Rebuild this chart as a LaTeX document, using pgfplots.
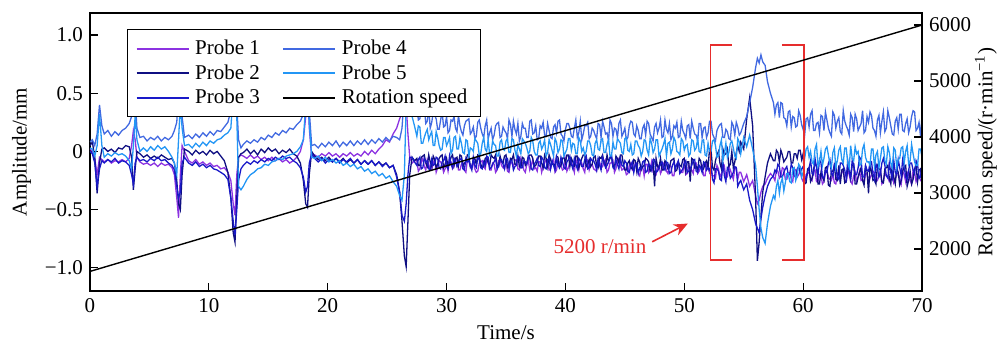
\documentclass[border=0pt]{standalone}
\usepackage{pgfplots}
\pgfplotsset{compat=1.18}
\usepackage{pgfplotstable}
\usepackage{fontspec}
\setmainfont{Liberation Serif}
\usetikzlibrary{arrows.meta}
\definecolor{pone}{RGB}{140,50,225}
\definecolor{ptwo}{RGB}{15,15,130}
\definecolor{pthree}{RGB}{25,25,200}
\definecolor{pfour}{RGB}{65,105,225}
\definecolor{pfive}{RGB}{35,150,245}
\definecolor{myred}{RGB}{230,45,45}

\pgfplotstableread{
t p1 p2 p3 p4 p5
0.0 0.02 0.05 0.00 0.08 0.03
0.2 0.00 0.08 -0.02 0.10 0.02
0.4 -0.06 -0.05 -0.10 0.05 -0.04
0.6 -0.20 -0.36 -0.30 0.15 0.05
0.8 -0.05 -0.10 -0.15 0.40 0.32
1.0 -0.07 0.02 -0.08 0.22 0.05
1.2 -0.09 0.03 -0.10 0.15 -0.05
1.5 -0.07 0.00 -0.07 0.18 -0.02
1.8 -0.10 0.02 -0.09 0.13 -0.04
2.1 -0.08 -0.01 -0.06 0.17 -0.01
2.4 -0.09 0.03 -0.10 0.14 -0.03
2.7 -0.07 0.02 -0.08 0.18 -0.02
3.0 -0.09 0.05 -0.09 0.20 -0.04
3.3 -0.06 0.04 -0.12 0.24 -0.08
3.5 0.05 -0.05 -0.20 0.30 -0.15
3.65 0.18 -0.33 -0.28 0.35 0.05
3.8 0.10 -0.15 -0.10 0.45 0.31
3.95 -0.05 0.00 -0.05 0.20 0.10
4.2 -0.09 -0.02 -0.08 0.12 0.00
4.5 -0.11 -0.05 -0.07 0.13 0.03
4.8 -0.10 -0.03 -0.09 0.09 0.00
5.1 -0.12 -0.06 -0.06 0.12 0.04
5.4 -0.10 -0.04 -0.08 0.10 0.01
5.7 -0.13 -0.06 -0.05 0.13 0.05
6.0 -0.10 -0.03 -0.08 0.09 0.02
6.3 -0.12 -0.05 -0.07 0.12 0.04
6.6 -0.11 -0.07 -0.10 0.10 0.00
6.9 -0.14 -0.06 -0.12 0.13 -0.05
7.1 -0.20 -0.10 -0.16 0.18 -0.10
7.3 -0.40 -0.25 -0.30 0.25 -0.20
7.45 -0.57 -0.45 -0.40 0.50 0.10
7.6 -0.20 -0.50 -0.35 0.60 0.40
7.75 0.05 -0.20 -0.10 0.30 0.20
7.95 0.00 0.02 -0.05 0.12 0.05
8.3 -0.08 0.00 -0.10 0.14 0.06
8.6 -0.10 -0.03 -0.12 0.11 0.03
8.9 -0.07 0.01 -0.09 0.15 0.07
9.2 -0.11 -0.02 -0.13 0.12 0.04
9.5 -0.09 0.00 -0.11 0.16 0.08
9.8 -0.12 -0.03 -0.14 0.13 0.05
10.1 -0.10 0.01 -0.12 0.17 0.09
10.4 -0.13 -0.02 -0.15 0.14 0.07
10.7 -0.12 0.00 -0.16 0.18 0.10
11.0 -0.15 -0.04 -0.18 0.17 0.11
11.3 -0.14 -0.08 -0.20 0.21 0.14
11.6 -0.18 -0.18 -0.24 0.25 0.16
11.85 -0.25 -0.40 -0.40 0.35 0.20
12.05 -0.45 -0.70 -0.60 0.55 0.50
12.2 -0.55 -0.78 -0.72 0.70 0.60
12.35 -0.20 -0.40 -0.50 0.40 0.30
12.5 -0.05 -0.05 -0.25 0.10 -0.30
12.7 -0.03 -0.02 -0.15 0.03 -0.33
12.9 -0.04 -0.01 -0.12 0.06 -0.30
13.2 -0.06 0.02 -0.09 0.09 -0.24
13.5 -0.03 -0.02 -0.11 0.07 -0.20
13.8 -0.06 0.01 -0.08 0.10 -0.18
14.1 -0.04 -0.03 -0.10 0.08 -0.15
14.4 -0.07 0.02 -0.07 0.12 -0.14
14.7 -0.05 -0.01 -0.09 0.10 -0.11
15.0 -0.08 0.03 -0.06 0.14 -0.12
15.3 -0.05 0.00 -0.08 0.12 -0.09
15.6 -0.08 0.02 -0.05 0.16 -0.08
15.9 -0.06 -0.02 -0.07 0.14 -0.06
16.2 -0.09 0.01 -0.04 0.18 -0.07
16.5 -0.07 -0.01 -0.06 0.16 -0.04
16.8 -0.10 0.02 -0.05 0.20 -0.03
17.1 -0.08 -0.02 -0.08 0.19 -0.02
17.4 -0.05 -0.04 -0.10 0.23 0.00
17.7 0.00 -0.10 -0.14 0.26 0.04
17.95 0.10 -0.25 -0.22 0.32 0.10
18.15 0.30 -0.45 -0.35 0.50 0.40
18.3 0.55 -0.48 -0.30 0.65 0.55
18.45 0.20 -0.20 -0.10 0.35 0.25
18.65 -0.05 0.00 -0.02 0.05 -0.05
18.9 -0.03 -0.04 -0.06 0.06 -0.06
19.2 -0.05 -0.07 -0.09 0.03 -0.04
19.5 -0.02 -0.05 -0.06 0.07 -0.08
19.8 -0.04 -0.08 -0.10 0.04 -0.05
20.1 -0.01 -0.05 -0.07 0.08 -0.09
20.4 -0.04 -0.09 -0.09 0.05 -0.07
20.7 -0.02 -0.06 -0.06 0.09 -0.10
21.0 -0.05 -0.09 -0.10 0.04 -0.08
21.3 -0.02 -0.06 -0.07 0.08 -0.12
21.6 -0.04 -0.10 -0.09 0.05 -0.10
21.9 -0.01 -0.07 -0.06 0.09 -0.13
22.2 -0.04 -0.10 -0.10 0.05 -0.11
22.5 -0.02 -0.07 -0.07 0.09 -0.15
22.8 -0.04 -0.11 -0.11 0.06 -0.13
23.1 0.00 -0.08 -0.08 0.10 -0.17
23.4 -0.03 -0.11 -0.11 0.06 -0.15
23.7 0.01 -0.08 -0.08 0.10 -0.19
24.0 -0.02 -0.12 -0.12 0.07 -0.17
24.3 0.02 -0.09 -0.09 0.11 -0.21
24.6 0.05 -0.12 -0.13 0.08 -0.19
24.9 0.10 -0.10 -0.10 0.12 -0.23
25.2 0.08 -0.14 -0.14 0.09 -0.21
25.5 0.15 -0.12 -0.12 0.13 -0.26
25.8 0.20 -0.20 -0.22 0.12 -0.30
26.05 0.28 -0.35 -0.35 0.10 -0.38
26.25 0.33 -0.60 -0.55 0.20 -0.42
26.45 0.50 -0.90 -0.60 0.50 -0.20
26.6 0.40 -0.99 -0.45 0.70 0.40
26.75 0.15 -0.60 -0.20 0.75 0.60
26.9 -0.05 -0.20 -0.05 0.55 0.45
27.1 -0.10 -0.05 -0.05 0.38 0.30
27.3 -0.08 -0.08 -0.09 0.33 0.22
27.5 -0.08 -0.06 -0.12 0.40 0.13
27.625 -0.17 -0.12 -0.07 0.27 0.22
27.75 -0.15 -0.12 -0.05 0.28 0.21
27.875 -0.09 -0.05 -0.15 0.37 0.07
28.0 -0.06 -0.04 -0.14 0.33 0.07
28.125 -0.13 -0.03 -0.06 0.38 0.12
28.25 -0.16 -0.10 -0.09 0.24 0.16
28.375 -0.07 -0.13 -0.08 0.26 0.19
28.5 -0.11 -0.03 -0.15 0.37 0.10
28.625 -0.16 -0.09 -0.16 0.20 0.14
28.75 -0.16 -0.13 -0.07 0.25 0.17
28.875 -0.10 -0.04 -0.12 0.33 0.05
29.0 -0.07 -0.07 -0.11 0.31 0.05
29.125 -0.18 -0.14 -0.05 0.28 0.17
29.25 -0.14 -0.11 -0.06 0.19 0.12
29.375 -0.08 -0.06 -0.14 0.19 0.05
29.5 -0.09 -0.04 -0.15 0.27 0.01
29.625 -0.12 -0.03 -0.09 0.34 0.02
29.75 -0.18 -0.14 -0.08 0.21 0.12
29.875 -0.15 -0.11 -0.04 0.22 0.12
30.0 -0.10 -0.06 -0.13 0.30 0.05
30.125 -0.17 -0.13 -0.15 0.16 0.08
30.25 -0.08 -0.10 -0.04 0.18 0.12
30.375 -0.09 -0.05 -0.11 0.27 -0.02
30.5 -0.15 -0.03 -0.14 0.26 0.01
30.625 -0.13 -0.12 -0.06 0.30 0.12
30.75 -0.06 -0.06 -0.08 0.20 0.13
30.875 -0.07 -0.05 -0.13 0.17 0.02
31.0 -0.16 -0.12 -0.11 0.31 0.02
31.125 -0.16 -0.03 -0.07 0.22 0.12
31.25 -0.11 -0.04 -0.06 0.17 0.07
31.375 -0.10 -0.13 -0.15 0.14 -0.01
31.5 -0.16 -0.10 -0.16 0.22 -0.02
31.625 -0.18 -0.09 -0.06 0.26 0.10
31.75 -0.07 -0.03 -0.09 0.27 0.09
31.875 -0.08 -0.04 -0.08 0.28 -0.04
32.0 -0.14 -0.13 -0.12 0.15 0.03
32.125 -0.12 -0.14 -0.16 0.17 0.02
32.25 -0.09 -0.07 -0.05 0.21 0.00
32.375 -0.15 -0.06 -0.12 0.11 0.11
32.5 -0.18 -0.11 -0.14 0.13 0.09
32.625 -0.17 -0.03 -0.05 0.25 0.07
32.75 -0.10 -0.04 -0.07 0.27 -0.03
32.875 -0.09 -0.11 -0.14 0.20 -0.02
33.0 -0.08 -0.14 -0.15 0.15 0.07
33.125 -0.13 -0.13 -0.09 0.12 0.12
33.25 -0.15 -0.06 -0.12 0.22 0.02
33.375 -0.07 -0.05 -0.04 0.27 0.00
33.5 -0.06 -0.10 -0.05 0.11 0.10
33.625 -0.16 -0.12 -0.15 0.16 -0.03
33.75 -0.16 -0.03 -0.14 0.20 -0.01
33.875 -0.10 -0.05 -0.11 0.10 0.09
34.0 -0.11 -0.06 -0.09 0.14 0.06
34.125 -0.18 -0.03 -0.06 0.22 0.05
34.25 -0.16 -0.12 -0.15 0.24 -0.04
34.375 -0.08 -0.13 -0.13 0.25 -0.04
34.5 -0.07 -0.04 -0.07 0.12 0.08
34.625 -0.12 -0.09 -0.07 0.13 0.10
34.75 -0.14 -0.10 -0.11 0.21 0.02
34.875 -0.15 -0.04 -0.15 0.18 0.01
35.0 -0.09 -0.03 -0.06 0.16 0.09
35.125 -0.17 -0.14 -0.06 0.11 0.11
35.25 -0.18 -0.13 -0.15 0.27 -0.01
35.375 -0.09 -0.06 -0.08 0.23 -0.01
35.5 -0.10 -0.07 -0.08 0.13 0.11
35.625 -0.13 -0.03 -0.16 0.26 0.10
35.75 -0.08 -0.11 -0.13 0.19 0.01
35.875 -0.07 -0.11 -0.12 0.15 -0.04
36.0 -0.15 -0.04 -0.04 0.24 0.06
36.125 -0.16 -0.13 -0.05 0.09 0.02
36.25 -0.06 -0.14 -0.14 0.13 -0.02
36.375 -0.10 -0.05 -0.14 0.24 0.11
36.5 -0.16 -0.06 -0.08 0.20 0.09
36.625 -0.18 -0.12 -0.09 0.20 0.07
36.75 -0.11 -0.10 -0.11 0.12 0.03
36.875 -0.08 -0.05 -0.04 0.12 -0.02
37.0 -0.16 -0.03 -0.06 0.26 0.00
37.125 -0.12 -0.03 -0.15 0.27 0.12
37.25 -0.07 -0.06 -0.16 0.15 0.09
37.375 -0.15 -0.13 -0.11 0.16 0.00
37.5 -0.14 -0.12 -0.09 0.22 -0.03
37.625 -0.17 -0.09 -0.06 0.10 -0.03
37.75 -0.09 -0.04 -0.12 0.11 0.07
37.875 -0.09 -0.04 -0.13 0.22 0.09
38.0 -0.18 -0.10 -0.05 0.20 0.02
38.125 -0.13 -0.14 -0.07 0.25 0.05
38.25 -0.10 -0.03 -0.14 0.14 0.10
38.375 -0.07 -0.06 -0.15 0.13 -0.04
38.5 -0.08 -0.13 -0.07 0.24 -0.01
38.625 -0.16 -0.03 -0.06 0.18 0.10
38.75 -0.15 -0.07 -0.15 0.12 0.06
38.875 -0.10 -0.11 -0.08 0.11 0.01
39.0 -0.06 -0.11 -0.12 0.21 -0.04
39.125 -0.18 -0.13 -0.16 0.23 0.11
39.25 -0.16 -0.04 -0.05 0.16 0.08
39.375 -0.08 -0.05 -0.12 0.26 -0.01
39.5 -0.11 -0.14 -0.14 0.27 0.02
39.625 -0.12 -0.12 -0.05 0.15 0.10
39.75 -0.16 -0.06 -0.09 0.13 0.09
39.875 -0.15 -0.05 -0.14 0.09 -0.04
40.0 -0.07 -0.10 -0.15 0.19 -0.01
40.125 -0.17 -0.03 -0.09 0.24 0.02
40.25 -0.14 -0.03 -0.07 0.24 0.11
40.375 -0.09 -0.13 -0.04 0.20 0.11
40.5 -0.09 -0.06 -0.11 0.13 0.01
40.625 -0.13 -0.09 -0.15 0.12 0.07
40.75 -0.18 -0.12 -0.06 0.20 0.06
40.875 -0.07 -0.04 -0.11 0.27 -0.02
41.0 -0.10 -0.04 -0.15 0.12 -0.02
41.125 -0.16 -0.14 -0.06 0.16 0.12
41.25 -0.08 -0.10 -0.08 0.26 0.09
41.375 -0.10 -0.06 -0.13 0.10 0.00
41.5 -0.15 -0.03 -0.13 0.15 0.03
41.625 -0.18 -0.03 -0.07 0.22 -0.03
41.75 -0.06 -0.13 -0.04 0.22 0.00
41.875 -0.08 -0.11 -0.15 0.25 0.09
42.0 -0.16 -0.07 -0.14 0.11 0.09
42.125 -0.12 -0.13 -0.06 0.13 0.05
42.25 -0.11 -0.11 -0.08 0.20 -0.03
42.375 -0.15 -0.05 -0.08 0.18 -0.04
42.5 -0.16 -0.04 -0.11 0.14 0.07
42.625 -0.17 -0.12 -0.16 0.11 0.10
42.75 -0.07 -0.14 -0.06 0.24 0.02
42.875 -0.09 -0.05 -0.12 0.23 0.01
43.0 -0.14 -0.06 -0.16 0.12 0.10
43.125 -0.13 -0.03 -0.05 0.26 0.11
43.25 -0.09 -0.10 -0.09 0.21 -0.01
43.375 -0.07 -0.13 -0.14 0.15 -0.01
43.5 -0.18 -0.03 -0.12 0.16 0.06
43.625 -0.16 -0.09 -0.09 0.09 0.10
43.75 -0.10 -0.06 -0.05 0.27 -0.04
43.875 -0.10 -0.04 -0.04 0.24 -0.04
44.0 -0.08 -0.12 -0.14 0.13 0.08
44.125 -0.18 -0.14 -0.15 0.20 0.02
44.25 -0.15 -0.04 -0.07 0.19 0.02
44.375 -0.08 -0.06 -0.11 0.12 0.11
44.5 -0.06 -0.10 -0.15 0.24 0.09
44.625 -0.12 -0.03 -0.06 0.27 0.07
44.75 -0.16 -0.03 -0.12 0.13 -0.01
44.875 -0.15 -0.11 -0.13 0.16 -0.02
45.0 -0.14 -0.16 -0.08 0.20 0.11
45.125 -0.20 -0.16 -0.10 0.10 0.12
45.25 -0.19 -0.10 -0.17 0.12 0.01
45.375 -0.12 -0.08 -0.18 0.22 0.00
45.5 -0.10 -0.14 -0.12 0.26 0.06
45.625 -0.16 -0.15 -0.09 0.25 -0.03
45.75 -0.17 -0.07 -0.18 0.15 -0.02
45.875 -0.10 -0.08 -0.11 0.13 0.09
46.0 -0.12 -0.17 -0.10 0.22 0.09
46.125 -0.19 -0.06 -0.19 0.18 0.05
46.25 -0.21 -0.09 -0.14 0.11 0.03
46.375 -0.13 -0.16 -0.15 0.11 -0.04
46.5 -0.13 -0.13 -0.09 0.20 0.00
46.625 -0.21 -0.12 -0.08 0.23 0.10
46.75 -0.11 -0.06 -0.18 0.14 0.09
46.875 -0.11 -0.07 -0.17 0.26 0.01
47.0 -0.18 -0.09 -0.11 0.24 -0.03
47.125 -0.15 -0.17 -0.12 0.15 0.11
47.25 -0.09 -0.15 -0.16 0.12 0.07
47.375 -0.18 -0.09 -0.07 0.09 -0.01
47.5 -0.19 -0.30 -0.07 0.21 0.02
47.625 -0.20 -0.06 -0.18 0.24 0.10
47.75 -0.14 -0.13 -0.17 0.16 0.10
47.875 -0.12 -0.14 -0.14 0.20 -0.04
48.0 -0.19 -0.06 -0.11 0.27 -0.01
48.125 -0.16 -0.16 -0.09 0.12 0.02
48.25 -0.10 -0.16 -0.14 0.13 0.06
48.375 -0.10 -0.08 -0.16 0.27 0.11
48.5 -0.17 -0.10 -0.09 0.19 -0.04
48.625 -0.19 -0.15 -0.10 0.16 0.07
48.75 -0.12 -0.14 -0.19 0.24 0.08
48.875 -0.13 -0.08 -0.18 0.10 -0.02
49.0 -0.21 -0.07 -0.12 0.13 0.02
49.125 -0.21 -0.06 -0.09 0.22 0.12
49.25 -0.13 -0.17 -0.15 0.20 0.09
49.375 -0.11 -0.16 -0.11 0.25 0.00
49.5 -0.11 -0.09 -0.08 0.12 -0.01
49.625 -0.15 -0.12 -0.19 0.13 -0.03
49.75 -0.18 -0.13 -0.17 0.26 0.11
49.875 -0.18 -0.07 -0.15 0.18 0.09
50.0 -0.09 -0.06 -0.10 0.15 0.01
50.125 -0.20 -0.17 -0.08 0.11 0.05
50.25 -0.19 -0.09 -0.18 0.22 0.06
50.375 -0.12 -0.09 -0.17 0.23 -0.04
50.5 -0.14 -0.26 -0.15 0.11 -0.02
50.625 -0.16 -0.06 -0.12 0.26 0.10
50.75 -0.19 -0.07 -0.08 0.20 0.09
50.875 -0.10 -0.14 -0.07 0.15 0.01
51.0 -0.10 -0.13 -0.17 0.14 0.03
51.125 -0.19 -0.16 -0.18 0.09 0.11
51.25 -0.17 -0.06 -0.12 0.24 0.00
51.375 -0.13 -0.08 -0.14 0.24 -0.01
51.5 -0.12 -0.16 -0.18 0.12 0.09
51.625 -0.21 -0.15 -0.09 0.20 0.10
51.75 -0.21 -0.10 -0.10 0.21 -0.03
51.875 -0.11 -0.08 -0.16 0.12 -0.04
52.0 -0.13 -0.14 -0.14 0.16 0.07
52.125 -0.18 0.02 -0.16 0.26 0.00
52.25 -0.14 0.01 -0.12 0.26 0.00
52.375 -0.21 -0.14 -0.24 0.15 0.09
52.5 -0.21 -0.16 -0.27 0.12 0.10
52.625 -0.23 -0.08 -0.15 0.09 0.05
52.75 -0.12 -0.03 -0.15 0.18 -0.05
52.875 -0.15 0.00 -0.17 0.21 -0.04
53.0 -0.22 -0.10 -0.24 0.23 0.05
53.125 -0.19 -0.15 -0.25 0.24 0.10
53.25 -0.17 0.02 -0.09 0.12 -0.08
53.375 -0.13 -0.03 -0.21 0.12 -0.02
53.5 -0.22 -0.02 -0.26 0.19 0.07
53.625 -0.22 0.02 -0.14 0.17 -0.05
53.75 -0.13 -0.13 -0.16 0.11 -0.01
53.875 -0.16 -0.11 -0.23 0.10 0.07
54.0 -0.20 0.00 -0.21 0.25 0.09
54.125 -0.24 -0.14 -0.18 0.22 0.03
54.25 -0.15 -0.09 -0.13 0.14 -0.04
54.375 -0.14 -0.01 -0.14 0.25 -0.06
54.5 -0.24 0.05 -0.30 0.21 0.11
54.625 -0.18 0.00 -0.27 0.14 0.08
54.75 -0.18 0.08 -0.25 0.16 -0.02
55.0 -0.26 0.02 -0.33 0.24 0.12
55.25 -0.20 0.28 -0.28 0.30 0.04
55.5 -0.30 0.46 -0.42 0.42 0.14
55.75 -0.25 0.22 -0.50 0.55 0.02
56.0 -0.38 -0.40 -0.62 0.72 -0.12
56.15 -0.45 -0.94 -0.66 0.80 -0.30
56.3 -0.42 -0.78 -0.70 0.76 -0.50
56.45 -0.35 -0.55 -0.58 0.83 -0.66
56.6 -0.30 -0.35 -0.48 0.77 -0.74
56.8 -0.28 -0.22 -0.38 0.74 -0.79
57.0 -0.23 -0.10 -0.30 0.60 -0.62
57.25 -0.19 -0.02 -0.24 0.50 -0.47
57.5 -0.22 -0.08 -0.21 0.42 -0.38
57.625 -0.25 -0.08 -0.16 0.32 -0.41
57.75 -0.16 0.01 -0.18 0.40 -0.30
57.875 -0.17 -0.01 -0.11 0.42 -0.25
58.0 -0.23 -0.09 -0.13 0.29 -0.36
58.125 -0.21 0.01 -0.22 0.42 -0.27
58.25 -0.14 -0.03 -0.22 0.41 -0.23
58.375 -0.15 -0.09 -0.18 0.29 -0.34
58.5 -0.24 -0.07 -0.15 0.28 -0.27
58.625 -0.24 -0.05 -0.13 0.22 -0.19
58.75 -0.19 0.00 -0.20 0.34 -0.19
58.875 -0.18 0.00 -0.20 0.35 -0.26
59.0 -0.24 -0.10 -0.11 0.21 -0.27
59.125 -0.26 -0.10 -0.14 0.30 -0.15
59.25 -0.15 -0.02 -0.21 0.29 -0.14
59.375 -0.16 -0.02 -0.22 0.21 -0.25
59.5 -0.22 -0.06 -0.15 0.22 -0.21
59.625 -0.20 0.01 -0.13 0.35 -0.11
59.75 -0.17 0.01 -0.18 0.31 -0.13
59.875 -0.23 -0.07 -0.15 0.23 -0.22
60.0 -0.26 -0.02 -0.13 0.19 -0.18
60.125 -0.27 -0.28 -0.23 0.14 -0.06
60.25 -0.20 -0.27 -0.24 0.28 0.02
60.375 -0.19 -0.15 -0.18 0.29 0.04
60.5 -0.18 -0.14 -0.14 0.21 -0.05
60.625 -0.23 -0.26 -0.08 0.32 0.00
60.75 -0.25 -0.23 -0.19 0.35 -0.09
60.875 -0.17 -0.15 -0.20 0.18 -0.11
61.0 -0.16 -0.11 -0.06 0.18 0.02
61.125 -0.26 -0.12 -0.14 0.24 0.06
61.25 -0.26 -0.28 -0.21 0.25 -0.13
61.375 -0.20 -0.28 -0.07 0.16 -0.09
61.5 -0.21 -0.18 -0.10 0.31 0.00
61.625 -0.28 -0.22 -0.22 0.30 -0.12
61.75 -0.26 -0.25 -0.23 0.18 -0.06
61.875 -0.18 -0.14 -0.16 0.34 0.02
62.0 -0.17 -0.13 -0.18 0.27 0.04
62.125 -0.22 -0.29 -0.10 0.20 -0.03
62.25 -0.24 -0.30 -0.07 0.16 -0.11
62.375 -0.25 -0.17 -0.19 0.13 -0.14
62.5 -0.19 -0.17 -0.21 0.34 -0.01
62.625 -0.27 -0.12 -0.11 0.31 0.03
62.75 -0.28 -0.24 -0.13 0.20 -0.14
62.875 -0.19 -0.25 -0.22 0.26 -0.08
63.0 -0.20 -0.12 -0.24 0.29 0.01
63.125 -0.23 -0.28 -0.10 0.17 0.04
63.25 -0.18 -0.16 -0.10 0.15 -0.07
63.375 -0.17 -0.15 -0.12 0.35 -0.10
63.5 -0.25 -0.27 -0.16 0.26 0.03
63.625 -0.26 -0.26 -0.23 0.22 0.03
63.75 -0.16 -0.14 -0.08 0.19 -0.10
63.875 -0.20 -0.15 -0.18 0.14 -0.14
64.0 -0.26 -0.23 -0.23 0.32 0.05
64.125 -0.28 -0.12 -0.08 0.29 -0.06
64.25 -0.21 -0.11 -0.11 0.17 -0.08
64.375 -0.18 -0.28 -0.20 0.32 0.04
64.5 -0.26 -0.28 -0.20 0.28 -0.02
64.625 -0.22 -0.22 -0.14 0.18 0.00
64.75 -0.17 -0.18 -0.05 0.21 -0.12
64.875 -0.25 -0.14 -0.07 0.24 -0.11
65.0 -0.24 -0.25 -0.22 0.35 0.02
65.125 -0.27 -0.29 -0.22 0.16 0.06
65.25 -0.19 -0.13 -0.12 0.18 -0.05
65.375 -0.19 -0.17 -0.16 0.30 -0.09
65.5 -0.28 -0.36 -0.17 0.25 -0.09
65.625 -0.23 -0.12 -0.10 0.34 -0.12
65.75 -0.20 -0.17 -0.09 0.31 0.02
65.875 -0.17 -0.25 -0.19 0.20 0.02
66.0 -0.18 -0.24 -0.24 0.18 -0.13
66.125 -0.26 -0.28 -0.11 0.13 -0.03
66.25 -0.25 -0.12 -0.14 0.27 0.00
66.375 -0.20 -0.15 -0.22 0.31 -0.14
66.5 -0.16 -0.16 -0.19 0.16 -0.06
66.625 -0.28 -0.26 -0.10 0.26 0.03
66.75 -0.26 -0.27 -0.06 0.34 0.04
66.875 -0.18 -0.15 -0.12 0.17 -0.08
67.0 -0.21 -0.14 -0.21 0.20 -0.11
67.125 -0.22 -0.12 -0.23 0.35 0.04
67.25 -0.26 -0.23 -0.10 0.29 -0.01
67.375 -0.25 -0.28 -0.18 0.22 -0.10
67.5 -0.17 -0.11 -0.23 0.15 -0.14
67.625 -0.27 -0.22 -0.08 0.14 0.03
67.75 -0.24 -0.28 -0.18 0.26 0.01
67.875 -0.19 -0.14 -0.20 0.29 -0.14
68.0 -0.19 -0.18 -0.07 0.19 -0.07
68.125 -0.23 -0.29 -0.14 0.32 -0.06
68.25 -0.28 -0.25 -0.21 0.32 0.03
68.375 -0.17 -0.17 -0.07 0.18 0.04
68.5 -0.20 -0.13 -0.13 0.17 -0.10
68.625 -0.26 -0.12 -0.22 0.24 0.00
68.75 -0.18 -0.30 -0.24 0.28 0.05
68.875 -0.20 -0.25 -0.16 0.16 -0.11
69.0 -0.25 -0.17 -0.10 0.21 -0.08
69.125 -0.28 -0.28 -0.10 0.30 0.06
69.25 -0.16 -0.24 -0.16 0.35 -0.02
69.375 -0.18 -0.15 -0.19 0.34 -0.09
69.5 -0.26 -0.12 -0.08 0.18 -0.12
69.625 -0.22 -0.26 -0.11 0.20 -0.12
69.75 -0.21 -0.16 -0.23 0.25 0.02
69.875 -0.25 -0.15 -0.22 0.13 0.02
70.0 -0.26 -0.27 -0.11 0.31 -0.05
}\probes

\begin{document}
\begin{tikzpicture}[font=\fontsize{10.5}{12}\selectfont]
\begin{axis}[
  name=ax,
  scale only axis, width=416pt, height=139pt,
  xmin=0, xmax=70, ymin=-1.2, ymax=1.19,
  xtick={0,10,...,70},
  ytick={-1,-0.5,0,0.5,1},
  yticklabels={\textminus1.0,\textminus0.5,0,0.5,1.0},
  xtick pos=bottom, ytick pos=left,
  tick align=inside,
  xlabel={Time/s}, ylabel={Amplitude/mm},
  /pgf/number format/assume math mode=true,
  axis line style={line width=0.6pt},
  every tick/.style={black, line width=0.6pt},
  major tick length=4pt,
]
\addplot[pone, line width=0.65pt] table[x=t,y=p1]{\probes};
\addplot[ptwo, line width=0.65pt] table[x=t,y=p2]{\probes};
\addplot[pthree, line width=0.65pt] table[x=t,y=p3]{\probes};
\addplot[pfour, line width=0.65pt] table[x=t,y=p4]{\probes};
\addplot[pfive, line width=0.65pt] table[x=t,y=p5]{\probes};
\draw[myred, line width=0.9pt] (axis cs:54.0,0.914) -- (axis cs:52.2,0.914) -- (axis cs:52.2,-0.931) -- (axis cs:54.0,-0.931);
\draw[myred, line width=0.9pt] (axis cs:58.2,0.914) -- (axis cs:60.05,0.914) -- (axis cs:60.05,-0.931) -- (axis cs:58.2,-0.931);
\draw[myred, line width=0.8pt, -{Stealth[length=7pt, width=6pt]}] (axis cs:47.3,-0.777) -- (axis cs:50.3,-0.62);
\node[myred] at (axis cs:42.9,-0.82) {5200 r/min};
\end{axis}
\begin{axis}[
  scale only axis, width=416pt, height=139pt,
  xmin=0, xmax=70, ymin=1250, ymax=6215,
  axis x line=none, axis y line*=right,
  ytick={2000,3000,...,6000},
  scaled y ticks=false,
  /pgf/number format/1000 sep={},
  /pgf/number format/assume math mode=true,
  tick align=inside,
  axis line style={line width=0.6pt},
  every tick/.style={black, line width=0.6pt},
  major tick length=4pt,
  ylabel={Rotation speed/(r·min\textsuperscript{\textminus1})},
  ylabel shift=-5pt,
  legend columns=2,
  legend cell align=left,
  legend image code/.code={\draw[#1, line width=1pt] (0pt,0pt) -- (26pt,0pt);},
  legend style={at={(rel axis cs:0.0445,0.942)}, anchor=north west, draw=black, line width=0.6pt, fill=white,
    inner xsep=4pt, inner ysep=4.6pt, row sep=2.5pt,
    nodes={inner xsep=2.75pt, inner ysep=0.5pt},
    /tikz/every even column/.append style={column sep=8.5pt}},
]
\addlegendimage{pone}\addlegendentry{Probe 1}
\addlegendimage{pfour}\addlegendentry{Probe 4}
\addlegendimage{ptwo}\addlegendentry{Probe 2}
\addlegendimage{pfive}\addlegendentry{Probe 5}
\addlegendimage{pthree}\addlegendentry{Probe 3}
\addplot[black, line width=0.7pt] coordinates {(0,1600) (70,6000)};
\addlegendentry{Rotation speed}
\end{axis}
\pgfresetboundingbox
\path ([xshift=-45pt,yshift=6.5pt]ax.north west) rectangle ([xshift=39.5pt,yshift=-25.5pt]ax.south east);
\end{tikzpicture}
\end{document}
